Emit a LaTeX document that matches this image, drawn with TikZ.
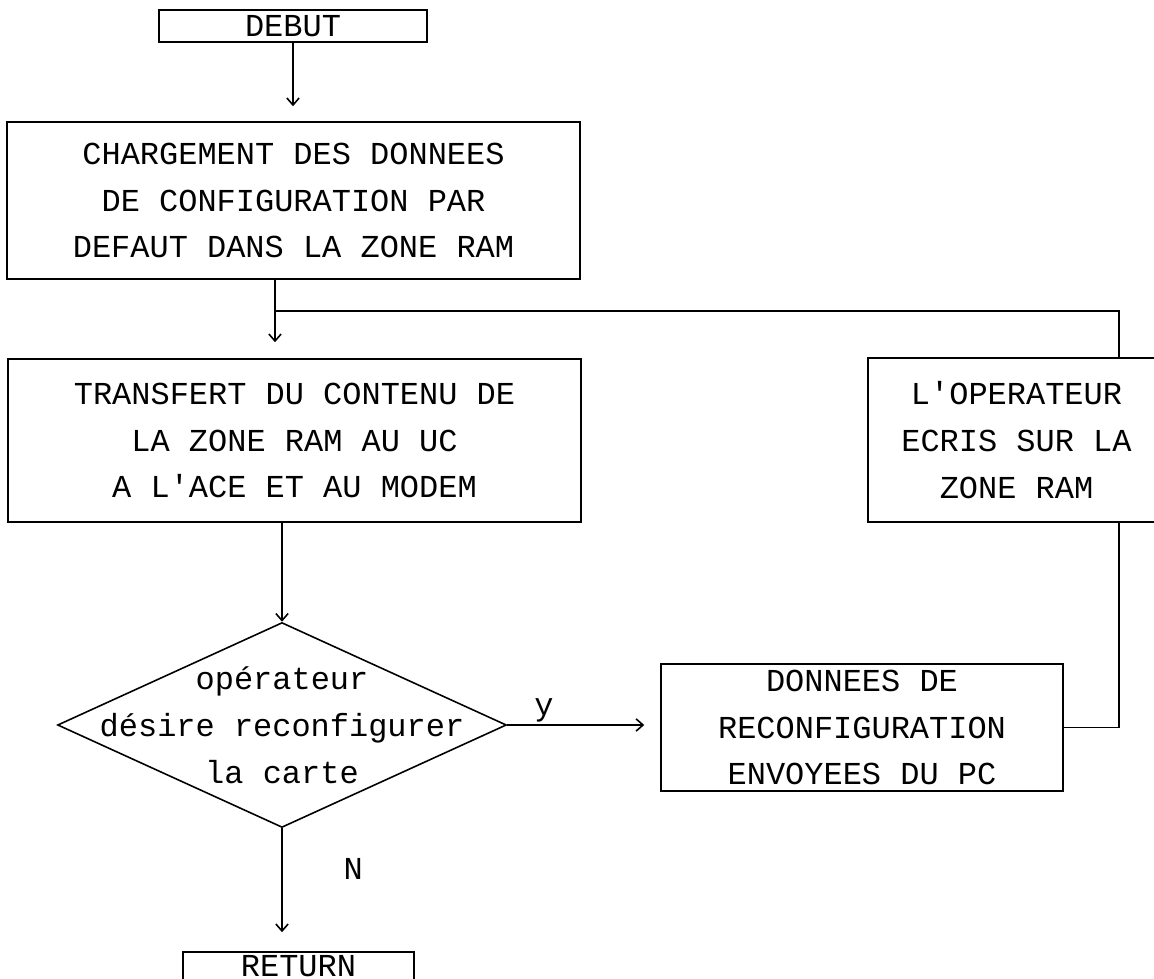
\documentclass[tikz,border=0pt]{standalone}
\usepackage{fontspec}
\setmainfont{Liberation Mono}
\usetikzlibrary{shapes.geometric,arrows.meta}

\begin{document}
\begin{tikzpicture}[x=0.02cm,y=-0.02cm,>={Straight Barb[length=4pt,width=7pt]},
    line width=0.9pt,font=\fontsize{18.2pt}{26.7pt}\selectfont,
    bloc/.style={draw,rectangle,inner sep=0pt,align=center},
    test/.style={draw,diamond,inner sep=0pt}]
    \useasboundingbox (0,0) rectangle (1154,979);
    \clip (0,0) rectangle (1154,979);
    \path (293,26) node [bloc,minimum width=5.36cm,minimum height=0.64cm](debut){DEBUT};
    \path (293.5,200.5) node [bloc,minimum width=11.46cm,minimum height=3.14cm](charge){CHARGEMENT DES DONNEES\\DE CONFIGURATION PAR\\DEFAUT DANS LA ZONE RAM};
    \path (294.5,440.5) node [bloc,minimum width=11.46cm,minimum height=3.26cm](transfert){TRANSFERT DU CONTENU DE\\LA ZONE RAM AU UC\\A L\textquotesingle ACE ET AU MODEM};
    \path (1016.5,440) node [bloc,minimum width=5.94cm,minimum height=3.28cm](ecrit){L\textquotesingle OPERATEUR\\ECRIS SUR LA\\ZONE RAM};
    \path (282,725) node [test,minimum width=8.98cm,minimum height=4.1cm,
        label={[align=center]center:opérateur\\désire reconfigurer\\la carte}](choix){};
    \path (862,727.5) node [bloc,minimum width=8.04cm,minimum height=2.54cm](donnees){DONNEES DE\\RECONFIGURATION\\ENVOYEES DU PC};
    \path (298.5,966) node [bloc,minimum width=4.62cm,minimum height=0.56cm](retour){RETURN};
    % points de raccord de la boucle
    \coordinate (fourche) at (275,311);
    \coordinate (boucle) at (1119,311);
    \draw[->,shorten >=0.3cm] (debut.south) -- (debut.south |- charge.north);
    \draw (charge.south -| fourche) -- (fourche);
    \draw[->,shorten >=0.32cm] (fourche) -- (transfert.north -| fourche);
    \draw (fourche) -- (boucle) -- (ecrit.north -| boucle);
    \draw[->] (transfert.south -| choix.north) -- (choix.north);
    \draw[->,shorten >=0.32cm] (choix.east) -- node[pos=0.24,above,inner sep=1pt]{y} (choix.east -| donnees.west);
    \draw (donnees.east) -| (ecrit.south -| boucle);
    \draw[->,shorten >=0.38cm] (choix.south) -- node[pos=0.33,right=1.1cm]{N} (choix.south |- retour.north);
\end{tikzpicture}
\end{document}
